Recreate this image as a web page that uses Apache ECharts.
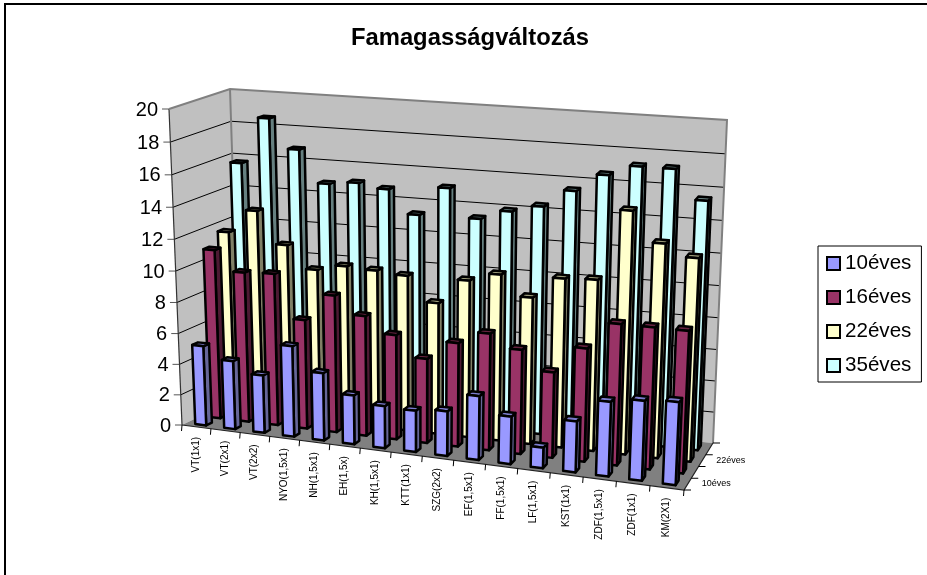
<!DOCTYPE html>
<html><head><meta charset="utf-8">
<style>html,body{margin:0;padding:0;background:#fff}#c{width:927px;height:575px}</style>
<script src="https://cdn.jsdelivr.net/npm/echarts@6/dist/echarts.min.js"></script>
</head><body><div id="c"></div>
<script>
var chartTitle = 'Famagasságváltozás';
var categories = ['VT(1x1)','VT(2x1)','VT(2x2)','NYO(1,5x1)','NH(1,5x1)','EH(1,5x)','KH(1,5x1)','KTT(1x1)','SZG(2x2)','EF(1,5x1)','FF(1,5x1)','LF(1,5x1)','KST(1x1)','ZDF(1,5x1)','ZDF(1x1)','KM(2X1)'];
var seriesNames = ['10éves','16éves','22éves','35éves'];
var depthLabels = ['10éves','','22éves',''];
var yTicks = [0,2,4,6,8,10,12,14,16,18,20];
var v10 = [5.2,4.45,3.75,5.85,4.35,3.15,2.7,2.65,2.85,4.05,3.0,1.3,3.2,4.65,4.95,5.1];
var v16 = [10.95,9.7,9.8,7.05,8.8,7.7,6.7,5.4,6.6,7.4,6.6,5.4,7.1,8.8,8.8,8.8];
var v22 = [11.7,13.2,11.2,9.8,10.2,10.1,9.95,8.4,10.0,10.55,9.3,10.65,10.75,15.1,13.3,12.6];
var v35 = [15.7,18.6,16.8,14.8,15.0,14.75,13.3,15.1,13.35,13.95,14.4,15.5,16.6,17.25,17.25,15.5];
var faces = [
  {front:'#9999FF',side:'#666699',top:'#7a7acc'},
  {front:'#993366',side:'#4d1a33',top:'#66223f'},
  {front:'#FFFFCC',side:'#808066',top:'#999977'},
  {front:'#CCFFFF',side:'#668080',top:'#668080'}
];
// Box corners of the oblique view: [u,v,w] => screen
var box = {
  f00:[182,425], f10:[684,490], f01:[169,109], f11:[699,151],
  b00:[240,397], b10:[713,443], b01:[230,89],  b11:[727,120]
};
var CU=-0.082, CW=-0.05;
function persp(t,c){return t*(1+c)/(1+c*t);}
function project(u,v,w){
  var a=persp(u,CU), c=persp(w,CW), r=[0,0];
  for(var k=0;k<2;k++){
    var f0=box.f00[k]*(1-a)+box.f10[k]*a, f1=box.f01[k]*(1-a)+box.f11[k]*a;
    var b0=box.b00[k]*(1-a)+box.b10[k]*a, b1=box.b01[k]*(1-a)+box.b11[k]*a;
    var fr=f0*(1-c)+f1*c, ba=b0*(1-c)+b1*c;
    r[k]=fr*(1-v)+ba*v;
  }
  return r;
}
function uw(params,pt){var s=params.coordSys;return [(pt[0]-s.x)/s.width,(s.y+s.height-pt[1])/s.height];}
var FONT='"Liberation Sans", Arial, sans-serif';
function poly(points,fill,stroke,lw){return {type:'polygon',shape:{points:points},style:{fill:fill,stroke:stroke,lineWidth:lw,lineJoin:'round'}};}
function line(a,b,stroke,lw){return {type:'line',shape:{x1:a[0],y1:a[1],x2:b[0],y2:b[1]},style:{stroke:stroke,lineWidth:lw}};}
function barSeries(idx,values){
  return {name:seriesNames[idx],type:'custom',coordinateSystem:'cartesian2d',clip:false,
    itemStyle:{color:faces[idx].front},
    data:values.map(function(v,i){return [i,v];}),
    encode:{x:0,y:1},
    renderItem:function(params,api){
      var top=uw(params,api.coord([api.value(0),api.value(1)]));
      var base=uw(params,api.coord([api.value(0),0]));
      var hw=0.19*api.size([1,0])[0]/params.coordSys.width;
      var u0=top[0]-hw,u1=top[0]+hw,v0=(idx+0.3)/4,v1=(idx+0.7)/4,w0=base[1],w1=top[1];
      var A=project(u0,v0,w0),B=project(u1,v0,w0),C=project(u1,v0,w1),D=project(u0,v0,w1);
      var E=project(u1,v1,w0),F=project(u1,v1,w1),G=project(u0,v1,w1);
      var f=faces[idx];
      return {type:'group',children:[
        poly([B,E,F,C],f.side,'#000',2.5),
        poly([D,C,F,G],f.top,'#000',2.5),
        poly([A,B,C,D],f.front,'#000',2.5)
      ]};
    }};
}
var series=[
 {name:'walls',type:'custom',clip:false,data:[[0,0]],encode:{x:0,y:1},silent:true,
  renderItem:function(){
    var p=project;
    return {type:'group',children:[
      poly([p(0,0,0),p(0,1,0),p(0,1,1),p(0,0,1)],'#C0C0C0','none',0),
      poly([p(0,1,0),p(1,1,0),p(1,1,1),p(0,1,1)],'#C0C0C0','none',0),
      poly([p(0,0,0),p(1,0,0),p(1,1,0),p(0,1,0)],'#808080','none',0)
    ]};
  }},
 {name:'grid',type:'custom',clip:false,data:yTicks.map(function(t){return [0,t];}),encode:{x:0,y:1},silent:true,
  renderItem:function(params,api){
    var w=uw(params,api.coord([0,api.value(1)]))[1],t=api.value(1);
    var a=project(0,0,w),b=project(0,1,w),c=project(1,1,w);
    var kids=[line([a[0]-7,a[1]],a,'#555',1),
      {type:'text',x:a[0]-11,y:a[1]+1,style:{text:String(t),fill:'#000',font:'20px '+FONT,align:'right',verticalAlign:'middle'}}];
    if(t>0&&t<20){kids.push(line(a,b,'#000',1));kids.push(line(b,c,'#000',1));}
    return {type:'group',children:kids};
  }},
 {name:'edges',type:'custom',clip:false,data:[[0,0]],encode:{x:0,y:1},silent:true,
  renderItem:function(){
    var p=project;
    return {type:'group',children:[
      line(p(0,0,0),p(0,0,1),'#333',1.2),
      {type:'polyline',shape:{points:[p(0,0,1),p(0,1,1),p(1,1,1),p(1,1,0)]},style:{fill:'none',stroke:'#808080',lineWidth:2}},
      line(p(0,1,1),p(0,1,0),'#808080',2),
      {type:'polyline',shape:{points:[p(0,0,0),p(1,0,0),p(1,1,0)]},style:{fill:'none',stroke:'#222',lineWidth:1.2}}
    ]};
  }},
 barSeries(3,v35),barSeries(2,v22),barSeries(1,v16),barSeries(0,v10),
 {name:'catAxis',type:'custom',clip:false,data:categories.map(function(c,i){return [i,0];}),encode:{x:0,y:1},silent:true,
  renderItem:function(params,api){
    var i=api.value(0),c=uw(params,api.coord([i,0])),du=0.5*api.size([1,0])[0]/params.coordSys.width;
    var t=project(c[0]-du,0,0),m=project(c[0],0,0),kids=[line(t,[t[0]-0.5,t[1]+6],'#000',1)];
    kids.push({type:'text',x:m[0]-0.5,y:m[1]+10,rotation:Math.PI/2,style:{text:categories[i],fill:'#000',font:'10px '+FONT,align:'right',verticalAlign:'middle'}});
    if(i===categories.length-1){var e=project(1,0,0);kids.push(line(e,[e[0]-0.5,e[1]+6],'#000',1));}
    return {type:'group',children:kids};
  }},
 {name:'depthAxis',type:'custom',clip:false,data:depthLabels.map(function(c,i){return [i,0];}),encode:{x:0,y:1},silent:true,
  renderItem:function(params,api){
    var i=api.value(0);
    var t=project(1,i/4,0),m=project(1,(i+0.5)/4,0),kids=[line(t,[t[0]+7,t[1]],'#000',1)];
    if(i===3){var e=project(1,1,0);kids.push(line(e,[e[0]+7,e[1]],'#000',1));}
    if(depthLabels[i])kids.push({type:'text',x:m[0]+14,y:m[1]-0.5,style:{text:depthLabels[i],fill:'#000',font:'9px '+FONT,align:'left',verticalAlign:'middle'}});
    return {type:'group',children:kids};
  }}
];
var chart=echarts.init(document.getElementById('c'),null,{renderer:'canvas',width:927,height:575});
chart.setOption({
  animation:false,backgroundColor:'#fff',
  title:{text:chartTitle,left:465,top:21,textAlign:'center',textStyle:{fontFamily:FONT,fontWeight:'bold',fontSize:23.8,color:'#000'}},
  grid:{left:169,top:109,width:515,height:316},
  xAxis:{type:'category',data:categories,show:false},
  yAxis:{type:'value',min:0,max:20,interval:2,show:false},
  legend:{data:seriesNames,orient:'vertical',left:818,top:246,padding:[7,10,6,8],itemGap:13,itemWidth:13,itemHeight:13,icon:'rect',
    borderColor:'#000',borderWidth:1,backgroundColor:'#fff',selectedMode:false,
    itemStyle:{borderColor:'#000',borderWidth:2},
    textStyle:{fontFamily:FONT,fontSize:20.6,color:'#000'}},
  graphic:[{type:'polyline',shape:{points:[[5,575],[5,4],[927,4]]},style:{fill:'none',stroke:'#000',lineWidth:2},silent:true}],
  series:series
});
</script></body></html>
